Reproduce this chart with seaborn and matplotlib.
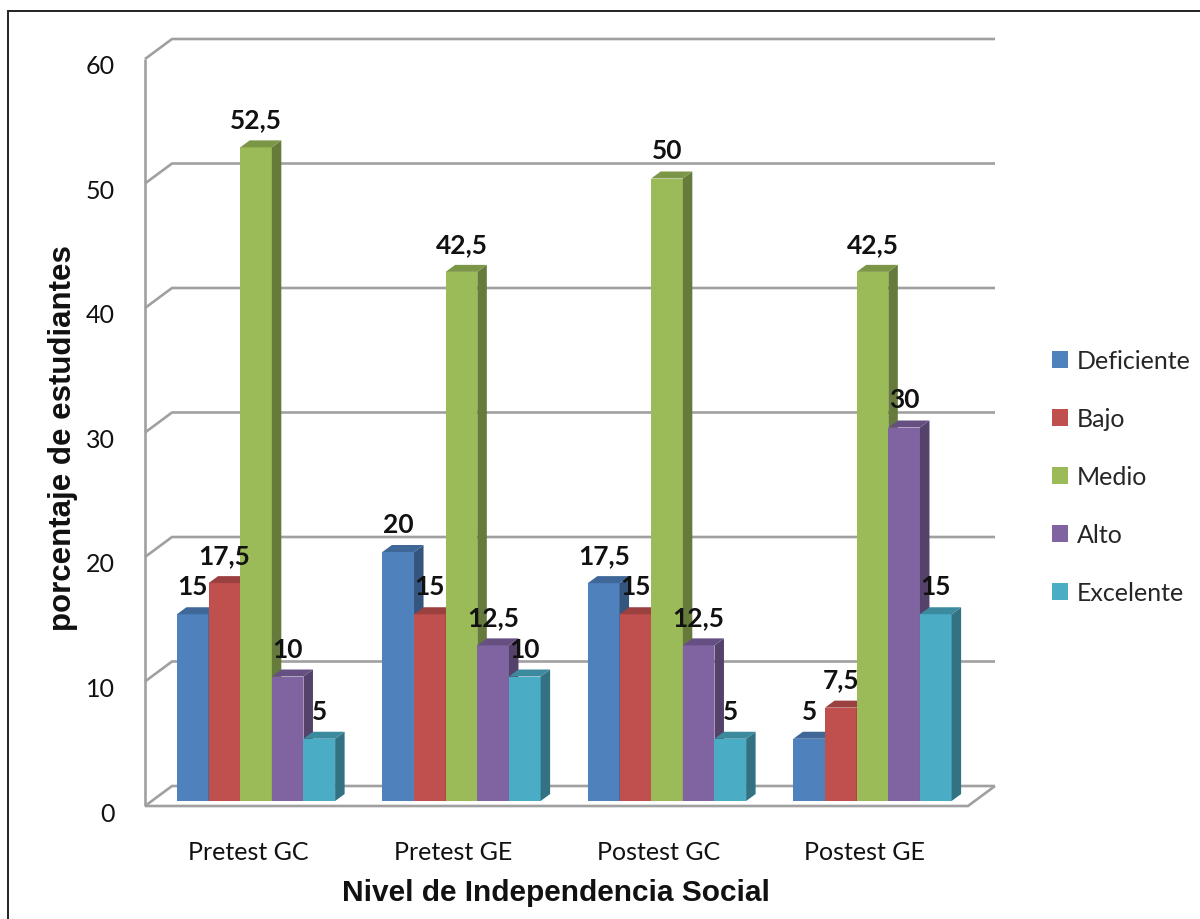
import matplotlib
matplotlib.use("Agg")
import matplotlib.pyplot as plt
import matplotlib.colors as mcolors
import numpy as np
import pandas as pd
import seaborn as sns
from matplotlib.patches import Polygon, Rectangle, Patch
from matplotlib.transforms import ScaledTranslation

# ---- data -------------------------------------------------------------
groups = ["Pretest GC", "Pretest GE", "Postest GC", "Postest GE"]
levels = ["Deficiente", "Bajo", "Medio", "Alto", "Excelente"]
deficiente = [15, 20, 17.5, 5]
bajo = [17.5, 15, 15, 7.5]
medio = [52.5, 42.5, 50, 42.5]
alto = [10, 12.5, 12.5, 30]
excelente = [5, 10, 5, 15]
y_ticks = [0, 10, 20, 30, 40, 50, 60]

colors = ["#4F81BD", "#C0504D", "#9BBB59", "#8064A2", "#4BACC6"]

series = [deficiente, bajo, medio, alto, excelente]
df = pd.DataFrame(
    [(g, lvl, vals[i]) for lvl, vals in zip(levels, series) for i, g in enumerate(groups)],
    columns=["grupo", "nivel", "porcentaje"],
)

# ---- style ------------------------------------------------------------
sns.set_style("white")
plt.rcParams["font.family"] = ["Lato", "DejaVu Sans"]
HEAD_FONT = ["Liberation Sans", "DejaVu Sans"]

W, H = 1200, 920
fig = plt.figure(figsize=(W / 100, H / 100), dpi=100)
fig.patch.set_facecolor("white")

# axes placement (pixels): left 145, right 995, y=-1 at 814.45, 12.45 px/unit
ax_left, ax_right = 145, 995
ax_bottom_px, px_per_unit = 814.45, 12.45
ylo, yhi = -1.0, 61.5
ax_h = (yhi - ylo) * px_per_unit
ax = fig.add_axes([ax_left / W, (H - ax_bottom_px) / H, (ax_right - ax_left) / W, ax_h / H])

px_per_cat = 205.5
X0 = (ax_left - 256) / px_per_cat
XR = (ax_right - 256) / px_per_cat
XF = (968 - 256) / px_per_cat

# ---- bars -------------------------------------------------------------
sns.barplot(
    data=df, x="grupo", y="porcentaje", hue="nivel",
    order=groups, hue_order=levels, palette=colors,
    width=0.77, gap=0, saturation=1, errorbar=None,
    linewidth=0, legend=False, ax=ax,
)

bars = [p for p in ax.patches if isinstance(p, Rectangle)]

# depth of the bars (3-D look)
DX = 9.5 / px_per_cat
DY = 7.0 / px_per_unit


def shade(c, f):
    r, g, b = mcolors.to_rgb(c)
    return (r * f, g * f, b * f)


for gi in range(len(groups)):
    in_group = sorted(
        [b for b in bars if abs(b.get_x() + b.get_width() / 2 - gi) < 0.5],
        key=lambda b: b.get_x(),
    )
    for k, b in enumerate(in_group):
        x0, w, h = b.get_x(), b.get_width(), b.get_height()
        base = b.get_facecolor()
        b.set_zorder(3 + 2 * k)
        side = Polygon(
            [(x0 + w, 0), (x0 + w + DX, DY), (x0 + w + DX, h + DY), (x0 + w, h)],
            closed=True, facecolor=shade(base, 0.66), edgecolor="none", zorder=4 + 2 * k,
        )
        top = Polygon(
            [(x0, h), (x0 + w, h), (x0 + w + DX, h + DY), (x0 + DX, h + DY)],
            closed=True, facecolor=shade(base, 0.8), edgecolor="none", zorder=4 + 2 * k,
        )
        ax.add_patch(side)
        ax.add_patch(top)
        label = f"{h:g}".replace(".", ",")
        ax.annotate(
            label, xy=(x0 + w / 2, h), xytext=(0, 14.4), textcoords="offset points",
            ha="center", va="baseline", fontsize=19, fontweight="bold",
            color="#111111", zorder=30,
        )

# ---- walls and gridlines ---------------------------------------------
FRONT_OFF = -5 / px_per_unit
WDX = 27 / px_per_cat
WDY = 20 / px_per_unit
grid_kw = dict(color="#a0a0a0", lw=1.9, zorder=1, clip_on=False,
               solid_joinstyle="miter", solid_capstyle="butt")

for v in y_ticks:
    yf = v + FRONT_OFF
    yb = yf + WDY
    ax.plot([X0, X0 + WDX, XR], [yf, yb, yb], **grid_kw)

# left wall edge
ax.plot([X0, X0], [FRONT_OFF, y_ticks[-1] + FRONT_OFF], **grid_kw)
# floor front edge and right side
ax.plot([X0, XF, XF + WDX], [FRONT_OFF, FRONT_OFF, FRONT_OFF + WDY], **grid_kw)

ax.set_xlim(X0, XR)
ax.set_ylim(ylo, yhi)
for s in ax.spines.values():
    s.set_visible(False)
ax.set_facecolor("none")
ax.grid(False)

# ---- ticks ------------------------------------------------------------
ax.set_yticks(y_ticks)
ax.set_yticklabels([str(t) for t in y_ticks])
ax.tick_params(axis="y", length=0, pad=21.6, labelsize=18, labelcolor="#111111")
for lab in ax.get_yticklabels():
    lab.set_transform(lab.get_transform() + ScaledTranslation(0, -10 / 100, fig.dpi_scale_trans))

ax.set_xticks(range(len(groups)))
ax.set_xticklabels(groups)
ax.tick_params(axis="x", length=0, pad=19, labelsize=18, labelcolor="#111111")
for lab in ax.get_xticklabels():
    lab.set_transform(lab.get_transform() + ScaledTranslation(-8 / 100, 0, fig.dpi_scale_trans))

ax.set_xlabel("Nivel de Independencia Social", fontsize=21.5, fontweight="bold",
              family=HEAD_FONT, color="#111111")
ax.xaxis.set_label_coords((556 - ax_left) / (ax_right - ax_left), (ax_bottom_px - 893) / ax_h)
ax.xaxis.label.set_verticalalignment("center")

ax.set_ylabel("porcentaje de estudiantes", fontsize=22.5, fontweight="bold",
              family=HEAD_FONT, color="#111111")
ax.yaxis.set_label_coords((63 - ax_left) / (ax_right - ax_left), (ax_bottom_px - 438) / ax_h)
ax.yaxis.label.set_verticalalignment("center")

# ---- legend -----------------------------------------------------------
handles = [Patch(facecolor=c, edgecolor="none", label=l) for c, l in zip(colors, levels)]
fig.legend(
    handles=handles, loc="center left", bbox_to_anchor=(1052 / W, 1 - 478 / H),
    frameon=False, fontsize=18, handlelength=0.64, handleheight=0.64,
    handletextpad=0.36, labelspacing=1.40, borderpad=0, borderaxespad=0,
)

# outer frame
fig.add_artist(Rectangle((8 / W, -0.02), 1.05, 1 - 12 / H + 0.02, transform=fig.transFigure,
                         fill=False, edgecolor="#222222", lw=1.4))

fig.savefig("out.png", dpi=100)
